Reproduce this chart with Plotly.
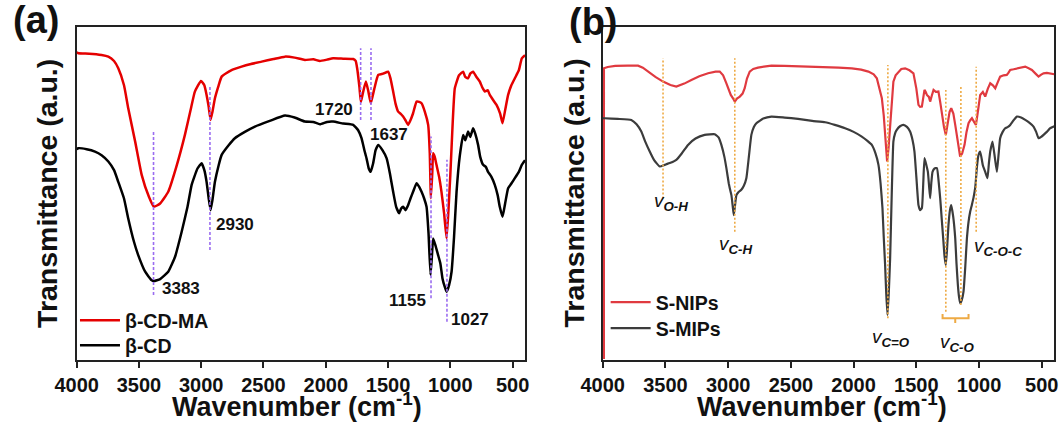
import plotly.graph_objects as go

# ---------------- Panel (a) data ----------------
A_RED_WN = [4000, 3987, 3900, 3800, 3746, 3700, 3666, 3620, 3586, 3530,
            3478, 3420, 3380, 3330, 3265, 3200, 3131, 3080, 3051, 3002,
            2975, 2957, 2940, 2925, 2910, 2890, 2860, 2836, 2760, 2676,
            2600, 2515, 2420, 2328, 2250, 2168, 2100, 2047, 1990, 1941,
            1860, 1780, 1760, 1748, 1730, 1718, 1700, 1678, 1660, 1638,
            1610, 1579, 1540, 1499, 1480, 1459, 1440, 1419, 1400, 1379,
            1360, 1339, 1320, 1299, 1271, 1250, 1231, 1205, 1178, 1165,
            1156, 1145, 1138, 1125, 1111, 1090, 1071, 1050, 1030, 1015,
            1000, 985, 964, 930, 897, 880, 857, 840, 817, 790,
            763, 745, 723, 700, 683, 655, 629, 600, 581, 560,
            536, 510, 482, 450, 426, 400]
A_RED_T = [92.4, 92.1, 92.0, 91.6, 91.1, 89.8, 87.6, 82.5, 75.6, 65.5,
           55.6, 49.0, 46.0, 47.0, 50.5, 58.0, 67.6, 76.0, 80.6, 83.8,
           82.5, 79.6, 76.0, 72.1, 74.5, 78.6, 82.5, 85.1, 87.0, 88.1,
           88.9, 89.6, 90.4, 91.1, 90.8, 90.1, 90.3, 89.8, 90.2, 90.6,
           90.5, 90.4, 89.8, 87.6, 82.0, 77.4, 80.5, 83.6, 81.0, 77.1,
           81.5, 85.6, 86.0, 86.6, 84.5, 80.6, 77.0, 74.6, 74.0, 73.1,
           72.0, 70.6, 72.0, 74.1, 77.6, 77.5, 77.1, 74.6, 70.6, 62.0,
           48.6, 56.0, 62.1, 61.0, 58.6, 55.0, 50.5, 44.0, 36.5, 45.0,
           55.6, 68.0, 81.6, 85.5, 86.6, 85.0, 84.6, 86.0, 86.6, 85.0,
           83.6, 82.0, 80.6, 81.0, 79.6, 78.0, 76.6, 74.0, 71.1, 75.0,
           79.6, 82.5, 84.6, 87.0, 90.6, 91.5]

A_BLK_WN = [4000, 3987, 3920, 3853, 3800, 3746, 3700, 3666, 3620, 3586,
            3540, 3506, 3450, 3400, 3380, 3330, 3265, 3210, 3157, 3110,
            3077, 3030, 2997, 2975, 2957, 2940, 2925, 2910, 2890, 2860,
            2836, 2780, 2730, 2650, 2569, 2450, 2328, 2250, 2168, 2100,
            2047, 1990, 1941, 1860, 1780, 1740, 1713, 1690, 1673, 1655,
            1640, 1620, 1600, 1579, 1545, 1512, 1485, 1459, 1435, 1411,
            1395, 1379, 1360, 1339, 1320, 1299, 1271, 1250, 1231, 1210,
            1191, 1175, 1159, 1148, 1138, 1120, 1098, 1080, 1063, 1045,
            1030, 1010, 990, 970, 950, 925, 897, 880, 857, 840,
            817, 800, 777, 760, 737, 715, 697, 670, 643, 620,
            603, 581, 560, 536, 510, 482, 450, 426, 400]
A_BLK_T = [63.3, 63.6, 63.3, 62.6, 61.5, 59.6, 57.0, 53.5, 48.5, 42.5,
           35.5, 31.5, 26.5, 24.0, 23.7, 24.3, 26.5, 31.0, 38.5, 46.0,
           52.6, 57.5, 59.1, 57.0, 53.5, 48.5, 45.0, 48.0, 53.5, 58.5,
           61.6, 64.5, 66.6, 68.5, 70.1, 71.8, 73.4, 72.8, 71.6, 71.5,
           70.8, 71.5, 71.6, 71.0, 70.6, 69.0, 66.6, 63.0, 60.6, 57.5,
           56.5, 59.0, 63.0, 64.6, 63.0, 60.6, 56.0, 50.5, 46.0, 44.1,
           45.5, 46.0, 45.0, 46.5, 48.5, 50.5, 53.1, 52.0, 50.5, 48.5,
           46.0, 38.0, 25.5, 31.0, 36.5, 34.5, 31.5, 29.0, 24.5, 22.0,
           20.5, 22.5, 26.5, 37.0, 50.5, 61.0, 67.6, 66.0, 68.6, 67.0,
           69.6, 68.0, 64.6, 61.0, 58.6, 58.0, 56.5, 55.0, 52.6, 49.5,
           46.0, 43.0, 47.0, 51.6, 53.0, 54.6, 56.5, 58.6, 60.0]

A_PEAKS = [3383, 2930, 1720, 1637, 1155, 1027]
A_PEAK_LO = [19.5, 33.0, 72.1, 72.1, 18.5, 11.5]
A_PEAK_HI = [68.6, 82.1, 93.6, 93.6, 67.1, 60.1]
A_LABEL_X = [3332, 2896, 1766, 1660, 1178, 1010]
A_LABEL_Y = [21.5, 40.8, 75.1, 67.6, 18.0, 12.2]
A_LABEL_SIDE = ["left", "left", "right", "left", "right", "left"]

# ---------------- Panel (b) data ----------------
B_RED_WN = [3990, 3990, 3960, 3900, 3800, 3718, 3680, 3639, 3580, 3519, 3460,
            3413, 3350, 3293, 3230, 3160, 3100, 3067, 3040, 3014, 2995,
            2979, 2960, 2947, 2930, 2907, 2885, 2868, 2850, 2828, 2800,
            2762, 2700, 2655, 2550, 2443, 2320, 2227, 2120, 2014, 1940,
            1882, 1840, 1815, 1795, 1775, 1760, 1749, 1740, 1733, 1722,
            1709, 1695, 1683, 1665, 1643, 1620, 1589, 1555, 1523, 1500,
            1483, 1470, 1456, 1445, 1435, 1425, 1416, 1400, 1390, 1376,
            1363, 1345, 1324, 1310, 1297, 1280, 1265, 1250, 1235, 1222,
            1205, 1190, 1170, 1151, 1135, 1116, 1100, 1084, 1070, 1057,
            1040, 1025, 1008, 991, 970, 951, 930, 911, 890, 871,
            850, 832, 805, 779, 765, 752, 725, 698, 665, 632,
            605, 579, 550, 526, 505, 486, 460, 433, 400]
B_RED_T = [0.3, 87.6, 88.0, 88.3, 88.4, 88.4, 87.8, 86.6, 85.0, 83.6, 82.6,
           82.1, 83.0, 84.1, 85.2, 86.1, 86.6, 86.6, 85.5, 83.1, 81.0,
           79.6, 78.5, 77.6, 78.5, 79.1, 80.0, 81.6, 84.5, 86.6, 87.4,
           87.8, 88.2, 88.4, 88.3, 88.2, 88.1, 88.1, 87.8, 87.6, 87.2,
           86.6, 85.8, 84.6, 82.0, 78.6, 73.5, 67.6, 62.5, 59.6, 63.5,
           70.6, 78.0, 83.6, 85.5, 86.6, 87.4, 87.6, 87.0, 86.1, 81.5,
           76.6, 76.0, 76.1, 78.5, 81.1, 80.5, 79.6, 79.0, 77.6, 79.5,
           81.1, 80.5, 80.6, 77.5, 73.6, 70.0, 67.6, 70.5, 74.5, 75.6,
           74.0, 70.6, 65.0, 61.1, 62.0, 64.6, 68.5, 71.1, 72.0, 72.6,
           71.5, 70.6, 75.0, 79.6, 80.5, 79.1, 81.5, 83.1, 82.5, 81.6,
           83.5, 85.1, 85.5, 85.6, 86.3, 87.1, 87.3, 87.6, 87.8, 88.1,
           87.6, 87.1, 86.0, 85.1, 85.7, 86.1, 86.2, 86.1, 85.8]

B_BLK_WN = [4000, 3984, 3880, 3772, 3730, 3692, 3660, 3625, 3590, 3545,
            3506, 3460, 3413, 3370, 3320, 3260, 3187, 3107, 3075, 3054,
            3030, 3014, 2995, 2987, 2974, 2963, 2955, 2945, 2934, 2915,
            2895, 2875, 2855, 2835, 2815, 2795, 2775, 2720, 2655, 2550,
            2443, 2330, 2227, 2150, 2068, 2000, 1935, 1890, 1855, 1825,
            1802, 1785, 1770, 1760, 1749, 1740, 1730, 1720, 1709, 1696,
            1683, 1670, 1656, 1630, 1603, 1575, 1550, 1530, 1515, 1500,
            1483, 1470, 1456, 1445, 1435, 1420, 1408, 1398, 1390, 1380,
            1371, 1355, 1336, 1322, 1310, 1297, 1284, 1275, 1265, 1255,
            1244, 1232, 1222, 1206, 1190, 1180, 1169, 1160, 1151, 1138,
            1124, 1110, 1097, 1084, 1071, 1058, 1045, 1030, 1018, 1005,
            991, 970, 951, 933, 922, 911, 893, 875, 858, 845,
            832, 812, 792, 770, 752, 725, 698, 665, 632, 600,
            566, 545, 526, 505, 486, 460, 433, 400]
B_BLK_T = [72.6, 72.6, 72.4, 72.1, 70.8, 68.6, 65.5, 62.6, 60.0, 58.1,
           58.6, 59.2, 60.1, 62.0, 64.6, 66.5, 67.6, 67.8, 66.8, 64.6,
           61.0, 57.6, 53.0, 51.6, 49.5, 46.0, 43.5, 46.5, 49.5, 50.5,
           51.1, 52.3, 54.6, 61.0, 67.6, 70.0, 71.1, 72.5, 73.1, 72.8,
           72.4, 71.8, 71.4, 70.6, 69.6, 68.5, 67.1, 65.8, 64.6, 62.0,
           58.6, 53.0, 45.6, 37.0, 28.5, 20.0, 13.5, 20.0, 30.5, 50.0,
           65.6, 68.0, 69.1, 70.2, 70.6, 70.0, 68.6, 66.0, 62.6, 55.0,
           46.5, 45.0, 45.6, 53.0, 60.6, 58.5, 56.5, 52.0, 48.6, 53.5,
           56.5, 57.5, 57.6, 53.5, 48.6, 42.0, 35.5, 31.0, 28.5, 33.5,
           40.5, 45.0, 46.5, 43.0, 36.5, 29.0, 22.5, 19.0, 17.0, 18.0,
           20.5, 28.0, 36.5, 41.5, 44.5, 46.5, 48.6, 52.0, 57.6, 61.5,
           62.6, 58.5, 56.5, 54.6, 59.0, 62.6, 65.6, 61.0, 56.5, 61.5,
           66.6, 68.5, 69.6, 70.0, 70.6, 72.0, 73.1, 72.8, 72.1, 71.3,
           70.1, 68.5, 66.6, 67.0, 67.6, 68.5, 69.6, 70.2]

B_PEAKS = [3519, 2947, 1727, 1265, 1145, 1023]
B_PEAK_LO = [48.5, 38.5, 12.5, 14.5, 16.5, 38.5]
B_PEAK_HI = [90.6, 90.6, 88.6, 81.1, 82.1, 88.1]
B_LABELS = ["O-H", "C-H", "C=O", "C-O", "C-O-C"]
B_LABEL_X = [3453, 2941, 1701, 1172, 853]
B_LABEL_Y = [47.5, 34.5, 6.5, 5.0, 34.0]
B_BRACKET_WN = [1291, 1291, 1084, 1084, None, 1190, 1190]
B_BRACKET_T = [13.8, 12.5, 12.5, 13.8, None, 12.5, 11.1]

X_TICKS = [4000, 3500, 3000, 2500, 2000, 1500, 1000, 500]

FONT = "Liberation Sans, Arial, sans-serif"
RED_A, BLK_A = "#e50000", "#000000"
RED_B, BLK_B = "#e03a40", "#3c3c3c"
PURPLE = "#9a6cf0"
ORANGE = "#eeaa44"

fig = go.Figure()
fig.add_trace(go.Scatter(x=A_RED_WN, y=A_RED_T, mode="lines", name="β-CD-MA",
                         line=dict(color=RED_A, width=2.5, shape="spline", smoothing=0.4),
                         xaxis="x", yaxis="y", legend="legend"))
fig.add_trace(go.Scatter(x=A_BLK_WN, y=A_BLK_T, mode="lines", name="β-CD",
                         line=dict(color=BLK_A, width=2.5, shape="spline", smoothing=0.4),
                         xaxis="x", yaxis="y", legend="legend2"))
fig.add_trace(go.Scatter(x=B_RED_WN, y=B_RED_T, mode="lines", name="S-NIPs",
                         line=dict(color=RED_B, width=2.2, shape="linear"),
                         xaxis="x2", yaxis="y2", legend="legend3", cliponaxis=False))
fig.add_trace(go.Scatter(x=B_BLK_WN, y=B_BLK_T, mode="lines", name="S-MIPs",
                         line=dict(color=BLK_B, width=2.2, shape="spline", smoothing=0.4),
                         xaxis="x2", yaxis="y2", legend="legend4"))
fig.add_trace(go.Scatter(x=B_BRACKET_WN, y=B_BRACKET_T, mode="lines", showlegend=False,
                         line=dict(color=ORANGE, width=2), xaxis="x2", yaxis="y2",
                         hoverinfo="skip"))

for wn, lo, hi in zip(A_PEAKS, A_PEAK_LO, A_PEAK_HI):
    fig.add_shape(type="line", xref="x", yref="y", x0=wn, x1=wn, y0=lo, y1=hi,
                  line=dict(color=PURPLE, width=1.6, dash="3px,2px"))
for wn, lo, hi in zip(B_PEAKS, B_PEAK_LO, B_PEAK_HI):
    fig.add_shape(type="line", xref="x2", yref="y2", x0=wn, x1=wn, y0=lo, y1=hi,
                  line=dict(color=ORANGE, width=1.6, dash="2px,2px"))

for wn, xt, yt, side in zip(A_PEAKS, A_LABEL_X, A_LABEL_Y, A_LABEL_SIDE):
    fig.add_annotation(x=xt, y=yt, xref="x", yref="y", text=str(wn), showarrow=False,
                       xanchor=side, yanchor="middle",
                       font=dict(family=FONT, size=17, color="#111111", weight="bold"))
for lab, xt, yt in zip(B_LABELS, B_LABEL_X, B_LABEL_Y):
    fig.add_annotation(x=xt, y=yt, xref="x2", yref="y2",
                       text="<i>v</i><sub><b><i>" + lab + "</i></b></sub>", showarrow=False,
                       xanchor="center", yanchor="middle",
                       font=dict(family=FONT, size=19, color="#111111"))

# Axis titles and panel labels
for xp in [0.2797, 0.774]:
    fig.add_annotation(x=xp, y=0.041, xref="paper", yref="paper",
                       text="Wavenumber (cm<sup>-1</sup>)", showarrow=False,
                       xanchor="center", yanchor="middle",
                       font=dict(family=FONT, size=27, color="#111111", weight="bold"))
for xp in [0.0447, 0.5405]:
    fig.add_annotation(x=xp, y=0.5415, xref="paper", yref="paper",
                       text="Transmittance (a.u.)", showarrow=False, textangle=-90,
                       xanchor="center", yanchor="middle",
                       font=dict(family=FONT, size=28.5, color="#111111", weight="bold"))
for txt, xp, yp in [("(a)", 0.0339, 0.9526), ("(b)", 0.5593, 0.949)]:
    fig.add_annotation(x=xp, y=yp, xref="paper", yref="paper", text=txt, showarrow=False,
                       xanchor="center", yanchor="middle",
                       font=dict(family=FONT, size=38, color="#111111", weight="bold"))

xax = dict(range=[4000, 400], tickvals=X_TICKS, ticktext=[str(v) for v in X_TICKS],
           ticks="outside", ticklen=6, tickwidth=1.5, tickcolor="#222222",
           showline=True, linewidth=1.5, linecolor="#222222", mirror=True,
           showgrid=False, zeroline=False, automargin=False,
           tickfont=dict(family=FONT, size=20, color="#111111", weight="bold"))
yax = dict(range=[0, 100], showticklabels=False, ticks="", showline=True, linewidth=1.5,
           linecolor="#222222", mirror=True, showgrid=False, zeroline=False,
           automargin=False, layer="below traces")

leg_font = dict(family=FONT, size=19.5, color="#111111", weight="bold")
def leg(xp, yp):
    return dict(x=xp, y=yp, xanchor="left", yanchor="top", font=leg_font,
                itemwidth=40, bgcolor="rgba(0,0,0,0)", tracegroupgap=0)

fig.update_layout(
    width=1062, height=422,
    margin=dict(l=0, r=0, t=0, b=0, pad=0, autoexpand=False),
    paper_bgcolor="white", plot_bgcolor="white",
    xaxis=dict(domain=[0.0722, 0.4944], anchor="y", **xax),
    yaxis=dict(domain=[0.147, 0.936], anchor="x", **yax),
    xaxis2=dict(domain=[0.5675, 0.9928], anchor="y2", **xax),
    yaxis2=dict(domain=[0.147, 0.936], anchor="x2", **yax),
    legend=leg(0.0706, 0.2867),
    legend2=leg(0.0706, 0.2275),
    legend3=leg(0.5703, 0.3294),
    legend4=leg(0.5703, 0.2678),
    showlegend=True,
)

fig.write_html("out.html", config={"displayModeBar": False},
               post_script="document.body.style.margin='0';document.body.style.overflow='hidden';")
